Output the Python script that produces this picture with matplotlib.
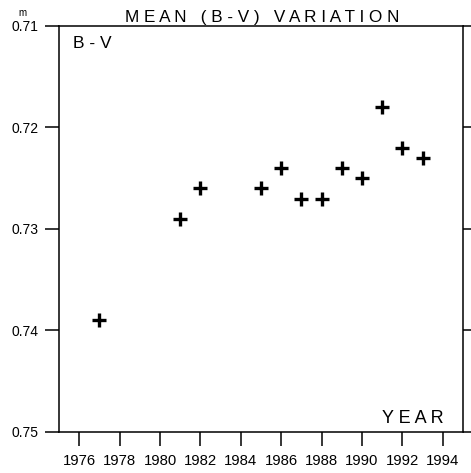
import matplotlib
matplotlib.use("Agg")
import matplotlib.pyplot as plt

# mean B-V colour index per year (axis inverted: redder at bottom)
years = [1977, 1981, 1982, 1985, 1986, 1987, 1988, 1989, 1990, 1991, 1992, 1993]
bv = [0.7390, 0.7290, 0.7260, 0.7260, 0.7240, 0.7270, 0.7270, 0.7240,
      0.7250, 0.7180, 0.7220, 0.7230]
xticks = list(range(1976, 1995, 2))
yticks = [0.71, 0.72, 0.73, 0.74, 0.75]

plt.rcParams["font.family"] = ["Liberation Sans", "DejaVu Sans"]

fig = plt.figure(figsize=(4.71, 4.73), dpi=100)
ax = fig.add_axes([0.1253, 0.0867, 0.8577, 0.8584])

ax.plot(years, bv, linestyle="none", marker="+", markersize=9.5,
        markeredgewidth=2.4, color="black")

ax.set_xlim(1975, 1995)
ax.set_ylim(0.75, 0.71)
ax.set_xticks(xticks)
ax.set_yticks(yticks)
ax.set_yticklabels([f"{v:.2f}" for v in yticks])

for s in ax.spines.values():
    s.set_linewidth(1.1)
ax.tick_params(axis="x", direction="out", length=10, width=1.1,
               labelsize=10.7, pad=6)
ax.tick_params(axis="y", direction="out", length=10, width=1.1,
               labelsize=10, pad=5, right=True)

ax.text(0.035, 0.975, "B - V", transform=ax.transAxes, fontsize=12.5,
        ha="left", va="top")
ax.text(0.952, 0.012, "Y E A R", transform=ax.transAxes, fontsize=13,
        ha="right", va="bottom")

fig.text(262 / 471, 1 - 22 / 473, "M E A N   ( B - V )   V A R I A T I O N",
         ha="center", va="baseline", fontsize=12.3)
fig.text(22 / 471, 1 - 16 / 473, "m", ha="center", va="baseline", fontsize=7)

fig.savefig("out.png", dpi=100)
